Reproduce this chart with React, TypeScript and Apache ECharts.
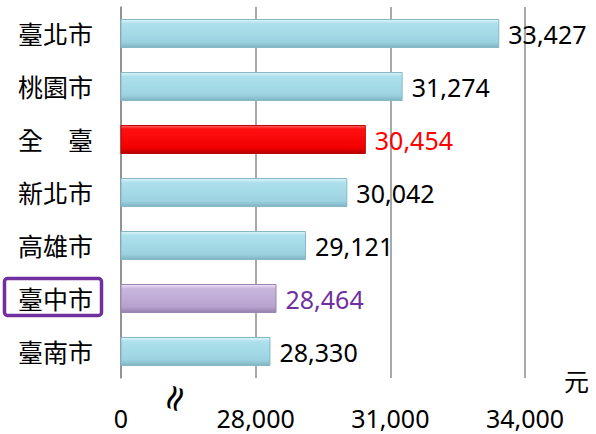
import React, { useEffect, useRef } from "react";
import * as echarts from "echarts";

const categories = ["臺北市", "桃園市", "全　臺", "新北市", "高雄市", "臺中市", "臺南市"];
const values = [33427, 31274, 30454, 30042, 29121, 28464, 28330];
const kinds = ["city", "city", "total", "city", "city", "focus", "city"];
const tickValues = [25000, 28000, 31000, 34000];
const tickLabels = ["0", "28,000", "31,000", "34,000"];

const FONT = "'Noto Sans', 'Noto Sans CJK TC', sans-serif";

function barColor(kind: string) {
  if (kind === "total") {
    return new echarts.graphic.LinearGradient(0, 0, 0, 1, [
      { offset: 0, color: "#ff6a6a" },
      { offset: 0.12, color: "#ff1010" },
      { offset: 0.8, color: "#f20000" },
      { offset: 1, color: "#b00000" },
    ]);
  }
  if (kind === "focus") {
    return new echarts.graphic.LinearGradient(0, 0, 0, 1, [
      { offset: 0, color: "#efe4f8" },
      { offset: 0.15, color: "#c8b6dc" },
      { offset: 0.8, color: "#b7a2cf" },
      { offset: 1, color: "#9580ab" },
    ]);
  }
  return new echarts.graphic.LinearGradient(0, 0, 0, 1, [
    { offset: 0, color: "#dff4fa" },
    { offset: 0.15, color: "#ace0ec" },
    { offset: 0.8, color: "#9dd3e1" },
    { offset: 1, color: "#7fb3c1" },
  ]);
}

function labelColor(kind: string) {
  if (kind === "total") return "#ff0000";
  if (kind === "focus") return "#7030a0";
  return "#000000";
}

function borderColor(kind: string) {
  if (kind === "total") return "#c00000";
  if (kind === "focus") return "#9a86b0";
  return "#86b8c6";
}

export default function App() {
  const ref = useRef<HTMLDivElement>(null);
  useEffect(() => {
    document.body.style.margin = "0";
    const chart = echarts.init(ref.current!, null, { renderer: "svg" });
    chart.setOption({
      animation: false,
      backgroundColor: "#ffffff",
      grid: { left: 121, right: 71, top: 7, bottom: 56, containLabel: false },
      xAxis: {
        type: "value",
        min: tickValues[0],
        max: tickValues[tickValues.length - 1],
        interval: 3000,
        axisLine: { show: false },
        axisTick: { show: false },
        splitLine: { show: true, lineStyle: { color: "#8c8c8c", width: 1.5 } },
        axisLabel: {
          margin: 27,
          fontSize: 25,
          fontFamily: FONT,
          color: "#000",
          formatter: (v: number) => {
            const i = tickValues.indexOf(v);
            return i >= 0 ? tickLabels[i] : "";
          },
        },
      },
      yAxis: {
        type: "category",
        data: categories,
        inverse: true,
        axisLine: { show: true, lineStyle: { color: "#8c8c8c", width: 1.5 } },
        axisTick: { show: false },
        axisLabel: { margin: 28, fontSize: 25, fontFamily: FONT, color: "#000" },
      },
      series: [
        {
          type: "bar",
          barWidth: 29,
          data: values.map((v, i) => ({
            value: v,
            itemStyle: {
              color: barColor(kinds[i]),
              borderColor: borderColor(kinds[i]),
              borderWidth: 1,
            },
            label: {
              show: true,
              position: "right",
              distance: 9,
              fontSize: 25,
              fontFamily: FONT,
              color: labelColor(kinds[i]),
              formatter: (p: any) => Number(p.value).toLocaleString("en-US"),
            },
          })),
        },
      ],
      graphic: [
        {
          type: "rect",
          shape: { x: 4.5, y: 278.5, width: 97, height: 37, r: 3 },
          style: { fill: "none", stroke: "#7030a0", lineWidth: 3.5 },
        },
        {
          type: "text",
          x: 564,
          y: 368,
          style: { text: "元", fontSize: 25, fontFamily: FONT, fill: "#000" },
        },
        {
          type: "text",
          x: 174,
          y: 398,
          rotation: (70 * Math.PI) / 180,
          style: {
            text: "≈",
            fontSize: 36,
            fontFamily: "'DejaVu Sans', sans-serif",
            fill: "#000",
            align: "center",
            verticalAlign: "middle",
          },
        },
      ],
    });
    return () => chart.dispose();
  }, []);
  return <div ref={ref} style={{ width: 596, height: 434, position: "absolute", left: 0, top: 0 }} />;
}
